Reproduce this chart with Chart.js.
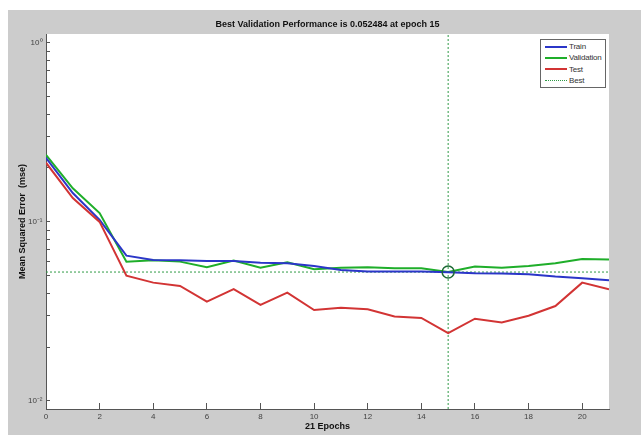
<!DOCTYPE html>
<html>
<head>
<meta charset="utf-8">
<title>Best Validation Performance</title>
<script src="https://cdn.jsdelivr.net/npm/chart.js@4.4.1/dist/chart.umd.min.js"></script>
<style>
    html, body { margin: 0; padding: 0; background: #fff; }
    #wrap { position: relative; width: 641px; height: 435px; }
    #legend {
        position: absolute; left: 540px; top: 39px; width: 64px; height: 47px;
        border: 1px solid #666; background: #fff;
        font: 8px "Liberation Sans", Arial, sans-serif; color: #333; letter-spacing: -0.2px;
    }
    #legend .item { position: absolute; left: 4px; height: 11px; line-height: 11px; white-space: nowrap; }
    #legend .swatch { display: inline-block; width: 22px; vertical-align: middle; margin-right: 2px; }
</style>
</head>
<body>
<div id="wrap">
    <canvas id="perfChart" width="641" height="435"></canvas>
    <div id="legend"></div>
</div>
<script>
(function () {
    'use strict';

    // Epochs and mse per data split
    var epochs     = [0, 1, 2, 3, 4, 5, 6, 7, 8, 9, 10, 11, 12, 13, 14, 15, 16, 17, 18, 19, 20, 21];
    var train      = [0.228, 0.145, 0.1026, 0.0648, 0.0613, 0.061, 0.0605, 0.0604, 0.0592, 0.0588, 0.0568,
                      0.0539, 0.0528, 0.0528, 0.0528, 0.0524, 0.0517, 0.0515, 0.0510, 0.0495, 0.0485, 0.0472];
    var validation = [0.237, 0.154, 0.112, 0.060, 0.061, 0.060, 0.0558, 0.0608, 0.0555, 0.0595, 0.0544,
                      0.0555, 0.0558, 0.0551, 0.0551, 0.052484, 0.0563, 0.0555, 0.0568, 0.0588, 0.0621, 0.0616];
    var test       = [0.214, 0.136, 0.100, 0.0501, 0.0458, 0.0439, 0.0359, 0.0421, 0.0344, 0.0403, 0.0322,
                      0.0332, 0.0325, 0.0296, 0.0291, 0.0239, 0.0288, 0.0274, 0.0299, 0.0339, 0.0458, 0.0421];

    var bestEpoch  = 15;
    var bestPerf   = 0.052484;

    var xTicks     = [0, 2, 4, 6, 8, 10, 12, 14, 16, 18, 20];
    var yDecades   = [-2, -1, 0];
    var yMin       = 0.00902;
    var yMax       = 1.12;

    var blue  = '#2b36c8';
    var green = '#1fae2a';
    var red   = '#d23434';
    var bestColour = '#2f9a46';
    var font  = '"Liberation Sans", Arial, Helvetica, sans-serif';

    function pts(arr) {
        return arr.map(function (v, i) { return { x: epochs[i], y: v }; });
    }

    var supers = { '-': '\u207B', '0': '\u2070', '1': '\u00B9', '2': '\u00B2' };
    function expLabel(e) {
        return '10' + String(e).split('').map(function (c) { return supers[c]; }).join('');
    }

    // y tick positions: 1..9 x 10^e inside the axis range
    var yTickVals = [];
    yDecades.forEach(function (e) {
        for (var m = 1; m <= 9; m++) {
            var v = m * Math.pow(10, e);
            if (v >= yMin && v <= yMax) yTickVals.push(v);
        }
    });

    var backdrop = {
        id: 'backdrop',
        beforeDraw: function (chart) {
            var ctx = chart.ctx, a = chart.chartArea;
            ctx.save();
            ctx.fillStyle = '#ffffff';
            ctx.fillRect(0, 0, chart.width, chart.height);
            ctx.fillStyle = '#cccccc';
            ctx.fillRect(8, 10, chart.width - 8, chart.height - 10);
            ctx.fillStyle = '#ffffff';
            ctx.fillRect(a.left, a.top, a.right - a.left, a.bottom - a.top);
            ctx.restore();
        },
        afterDraw: function (chart) {
            var ctx = chart.ctx, a = chart.chartArea;
            ctx.save();
            ctx.fillStyle = '#111';
            ctx.font = 'bold 9px ' + font;
            ctx.textAlign = 'center';
            ctx.textBaseline = 'middle';
            ctx.fillText('Best Validation Performance is ' + bestPerf + ' at epoch ' + bestEpoch,
                         (a.left + a.right) / 2, 25);
            ctx.restore();
        }
    };

    new Chart(document.getElementById('perfChart'), {
        type: 'line',
        data: {
            datasets: [
                { label: 'Train', data: pts(train), borderColor: blue, borderWidth: 2, order: 2 },
                { label: 'Validation', data: pts(validation), borderColor: green, borderWidth: 2, order: 3 },
                { label: 'Test', data: pts(test), borderColor: red, borderWidth: 2, order: 1 },
                { label: 'Best', data: [{ x: epochs[0], y: bestPerf }, { x: epochs[epochs.length - 1], y: bestPerf }],
                  borderColor: bestColour, borderWidth: 1, borderDash: [2, 2], order: 5 },
                { label: 'Best epoch', data: [{ x: bestEpoch, y: yMin }, { x: bestEpoch, y: yMax }],
                  borderColor: bestColour, borderWidth: 1, borderDash: [2, 2], order: 5 },
                { label: 'Best point', data: [{ x: bestEpoch, y: bestPerf }], showLine: false,
                  pointRadius: 6, borderColor: '#1d6b35', borderWidth: 1.5,
                  backgroundColor: 'rgba(0,0,0,0)', order: 0 }
            ]
        },
        options: {
            responsive: false,
            animation: false,
            layout: { padding: { top: 34, right: 32, left: 0, bottom: 0 } },
            elements: {
                point: { radius: 0, hoverRadius: 0 },
                line: { tension: 0, fill: false }
            },
            plugins: {
                legend: { display: false },
                tooltip: { enabled: false },
                title: { display: false }
            },
            scales: {
                x: {
                    type: 'linear',
                    min: 0,
                    max: 21,
                    afterFit: function (s) { s.height = 26; },
                    afterBuildTicks: function (s) { s.ticks = xTicks.map(function (v) { return { value: v }; }); },
                    ticks: { font: { family: font, size: 8 }, color: '#444', padding: 9, autoSkip: false, maxRotation: 0 },
                    grid: { drawOnChartArea: false, drawTicks: true, tickLength: -6, tickColor: '#555' },
                    border: { color: '#555', width: 1 },
                    title: {
                        display: true, text: epochs.length - 1 + ' Epochs', color: '#111',
                        font: { family: font, size: 9, weight: 'bold', lineHeight: 1.2 },
                        padding: { top: 0, bottom: 2.6 }
                    }
                },
                y: {
                    type: 'logarithmic',
                    min: yMin,
                    max: yMax,
                    afterFit: function (s) { s.width = 46; },
                    afterBuildTicks: function (s) { s.ticks = yTickVals.map(function (v) { return { value: v }; }); },
                    ticks: {
                        font: { family: font, size: 8 }, color: '#444', padding: 7.5, autoSkip: false,
                        callback: function (v) {
                            var e = Math.log10(v);
                            return Math.abs(e - Math.round(e)) < 1e-9 ? expLabel(Math.round(e)) : '';
                        }
                    },
                    grid: { drawOnChartArea: false, drawTicks: true, tickLength: -4, tickColor: '#555' },
                    border: { color: '#555', width: 1 },
                    title: {
                        display: true, text: 'Mean Squared Error  (mse)', color: '#111',
                        font: { family: font, size: 9, weight: 'bold', lineHeight: 1.2 },
                        padding: { top: 17.6, bottom: 0 }
                    }
                }
            }
        },
        plugins: [backdrop]
    });

    // Legend box in the top-right corner
    var legendItems = [
        { text: 'Train', colour: blue, style: 'solid', width: 2 },
        { text: 'Validation', colour: green, style: 'solid', width: 2 },
        { text: 'Test', colour: red, style: 'solid', width: 2 },
        { text: 'Best', colour: bestColour, style: 'dotted', width: 1 }
    ];
    var legendEl = document.getElementById('legend');
    legendItems.forEach(function (it, i) {
        var row = document.createElement('div');
        row.className = 'item';
        row.style.top = (1 + i * 11.3) + 'px';
        var sw = document.createElement('span');
        sw.className = 'swatch';
        sw.style.borderTop = it.width + 'px ' + it.style + ' ' + it.colour;
        row.appendChild(sw);
        row.appendChild(document.createTextNode(it.text));
        legendEl.appendChild(row);
    });
})();
</script>
</body>
</html>
